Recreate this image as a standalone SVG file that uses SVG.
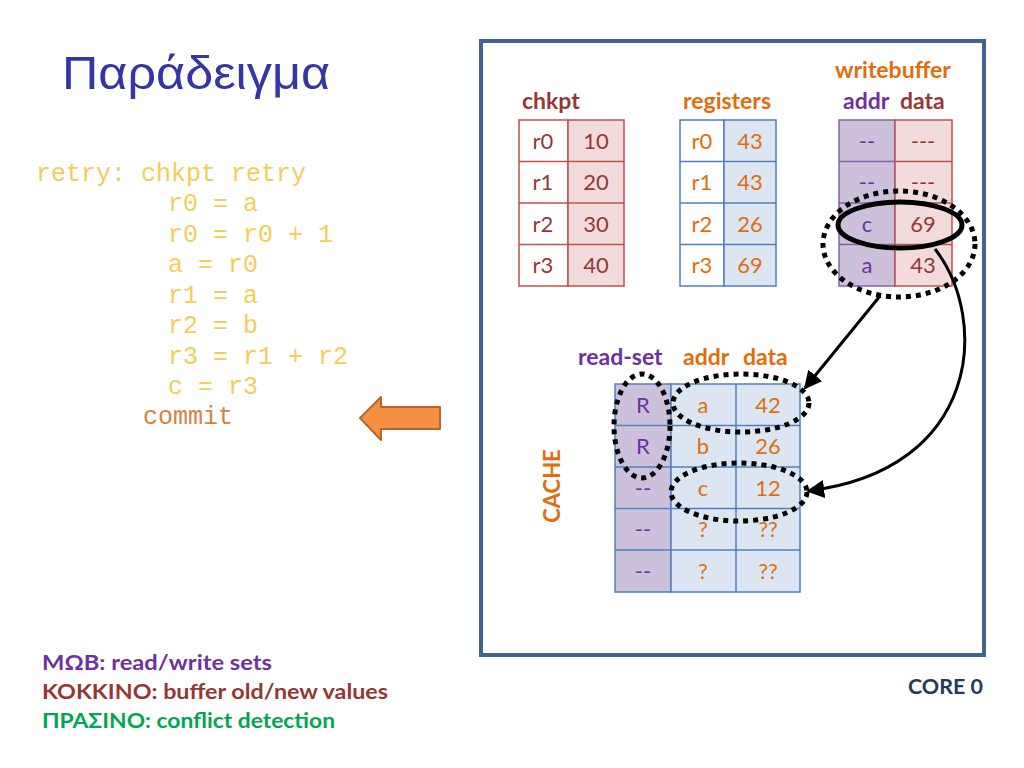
<svg xmlns="http://www.w3.org/2000/svg" width="1024" height="768" viewBox="0 0 1024 768">
<style>
.code{font-family:"Liberation Mono","Courier New",monospace;font-size:25px;fill:#f4cd58;}
.t{font-family:Lato,"Liberation Sans",sans-serif;font-size:22px;text-anchor:middle;}
.lbl{font-family:Lato,"Liberation Sans",sans-serif;font-size:23px;font-weight:bold;}
.leg{font-family:Lato,"Liberation Sans",sans-serif;font-size:21px;font-weight:bold;}
.red{fill:#953735;}
.org{fill:#e46c0a;}
.pur{fill:#7030a0;}
.cr{stroke:#c0504d;stroke-width:1.5;}
.cb{stroke:#4f81bd;stroke-width:1.5;}
.cp{stroke:#8064a2;stroke-width:1.5;}
.dot{fill:none;stroke:#000;stroke-width:5;stroke-dasharray:5 5;}
</style>
<defs>
<marker id="ah2" viewBox="0 0 10 10" refX="9" refY="5" markerWidth="18" markerHeight="18" orient="auto" markerUnits="userSpaceOnUse">
<path d="M0,0 L10,5 L0,10 z" fill="#000"/>
</marker>
</defs>
<rect width="1024" height="768" fill="#fff"/>

<g id="title">
<text x="62" y="89" font-family="Liberation Sans,Arial,sans-serif" font-size="47" fill="#3535a8" textLength="268" lengthAdjust="spacingAndGlyphs">Παράδειγμα</text>
</g>

<g id="code">
<text class="code" x="36" y="181">retry: chkpt retry</text>
<text class="code" x="168" y="211">r0 = a</text>
<text class="code" x="168" y="242">r0 = r0 + 1</text>
<text class="code" x="168" y="272">a = r0</text>
<text class="code" x="168" y="303">r1 = a</text>
<text class="code" x="168" y="333">r2 = b</text>
<text class="code" x="168" y="364">r3 = r1 + r2</text>
<text class="code" x="168" y="394">c = r3</text>
<text class="code" x="143" y="424" style="fill:#d4843e">commit</text>
</g>

<g id="orange-arrow">
<path d="M440,407 L381,407 L381,397 L360,418 L381,440 L381,429 L440,429 Z" fill="#f58f43" stroke="#b5662a" stroke-width="2" stroke-linejoin="round"/>
</g>

<g id="legend">
<text class="leg pur" x="42" y="670" textLength="230" lengthAdjust="spacingAndGlyphs">ΜΩΒ: read/write sets</text>
<text class="leg red" x="42" y="699" textLength="346" lengthAdjust="spacingAndGlyphs">ΚΟΚΚΙΝΟ: buffer old/new values</text>
<text class="leg" x="42" y="728" fill="#00a651" textLength="293" lengthAdjust="spacingAndGlyphs">ΠΡΑΣΙΝΟ: conflict detection</text>
</g>

<g id="core-frame">
<rect x="481" y="41" width="503" height="614" fill="none" stroke="#41648f" stroke-width="4"/>
<text class="lbl" x="983" y="694" text-anchor="end" fill="#243a5a" style="font-size:21px" textLength="75" lengthAdjust="spacingAndGlyphs">CORE 0</text>
</g>

<g id="chkpt">
<text class="lbl red" x="522" y="109">chkpt</text>
<rect class="cr" x="519" y="120" width="49" height="166" fill="#fff"/>
<rect class="cr" x="568" y="120" width="56" height="166" fill="#f2dcdb"/>
<path class="cr" d="M519,161.5H624M519,203H624M519,244.5H624"/>
<text class="t red" x="543" y="149">r0</text><text class="t red" x="596" y="149">10</text>
<text class="t red" x="543" y="190">r1</text><text class="t red" x="596" y="190">20</text>
<text class="t red" x="543" y="232">r2</text><text class="t red" x="596" y="232">30</text>
<text class="t red" x="543" y="273">r3</text><text class="t red" x="596" y="273">40</text>
</g>

<g id="registers">
<text class="lbl org" x="683" y="109">registers</text>
<rect class="cb" x="680" y="120" width="44" height="166" fill="#fff"/>
<rect class="cb" x="724" y="120" width="52" height="166" fill="#dce6f2"/>
<path class="cb" d="M680,161.5H776M680,203H776M680,244.5H776"/>
<text class="t org" x="702" y="149">r0</text><text class="t org" x="750" y="149">43</text>
<text class="t org" x="702" y="190">r1</text><text class="t org" x="750" y="190">43</text>
<text class="t org" x="702" y="232">r2</text><text class="t org" x="750" y="232">26</text>
<text class="t org" x="702" y="273">r3</text><text class="t org" x="750" y="273">69</text>
</g>

<g id="writebuffer">
<text class="lbl org" x="835" y="78">writebuffer</text>
<text class="lbl pur" x="843" y="109">addr</text>
<text class="lbl red" x="900" y="109">data</text>
<rect class="cp" x="839" y="120" width="56" height="166" fill="#ccc0da"/>
<path class="cp" d="M839,161.5H895M839,203H895M839,244.5H895"/>
<rect class="cr" x="895" y="120" width="57" height="166" fill="#f2dcdb"/>
<path class="cr" d="M895,161.5H952M895,203H952M895,244.5H952"/>
<text class="t pur" x="867" y="149">--</text><text class="t red" x="923" y="149">---</text>
<text class="t pur" x="867" y="190">--</text><text class="t red" x="923" y="190">---</text>
<text class="t pur" x="867" y="232">c</text><text class="t red" x="923" y="232">69</text>
<text class="t pur" x="867" y="273">a</text><text class="t red" x="923" y="273">43</text>
</g>

<g id="cache">
<text class="lbl pur" x="578" y="365">read-set</text>
<text class="lbl org" x="683" y="365">addr</text>
<text class="lbl org" x="743" y="365">data</text>
<text class="lbl org" transform="translate(560,486) rotate(-90)" text-anchor="middle" style="font-size:22px">CACHE</text>
<rect class="cb" x="615" y="384" width="56" height="208" fill="#ccc0da"/>
<rect class="cb" x="671" y="384" width="129" height="208" fill="#dce6f2"/>
<path class="cb" d="M736,384V592M615,425.5H800M615,467H800M615,508.5H800M615,550H800"/>
<text class="t pur" x="643" y="413">R</text><text class="t org" x="703" y="413">a</text><text class="t org" x="768" y="413">42</text>
<text class="t pur" x="643" y="454">R</text><text class="t org" x="703" y="454">b</text><text class="t org" x="768" y="454">26</text>
<text class="t pur" x="643" y="496">--</text><text class="t org" x="703" y="496">c</text><text class="t org" x="768" y="496">12</text>
<text class="t pur" x="643" y="537">--</text><text class="t org" x="703" y="537">?</text><text class="t org" x="768" y="537">??</text>
<text class="t pur" x="643" y="579">--</text><text class="t org" x="703" y="579">?</text><text class="t org" x="768" y="579">??</text>
</g>

<g id="highlights">
<ellipse class="dot" cx="642" cy="426" rx="28" ry="52"/>
<ellipse class="dot" cx="741" cy="403" rx="68" ry="29"/>
<ellipse class="dot" cx="739" cy="492" rx="68" ry="29"/>
<ellipse class="dot" cx="899" cy="244" rx="76" ry="53"/>
<ellipse cx="900" cy="225" rx="62" ry="23" fill="none" stroke="#000" stroke-width="5"/>
</g>

<g id="connectors">
<path d="M880,296 L805,388" fill="none" stroke="#000" stroke-width="3" marker-end="url(#ah2)"/>
<path d="M935,249 C990,320 980,470 808,491" fill="none" stroke="#000" stroke-width="3" marker-end="url(#ah2)"/>
</g>
</svg>
